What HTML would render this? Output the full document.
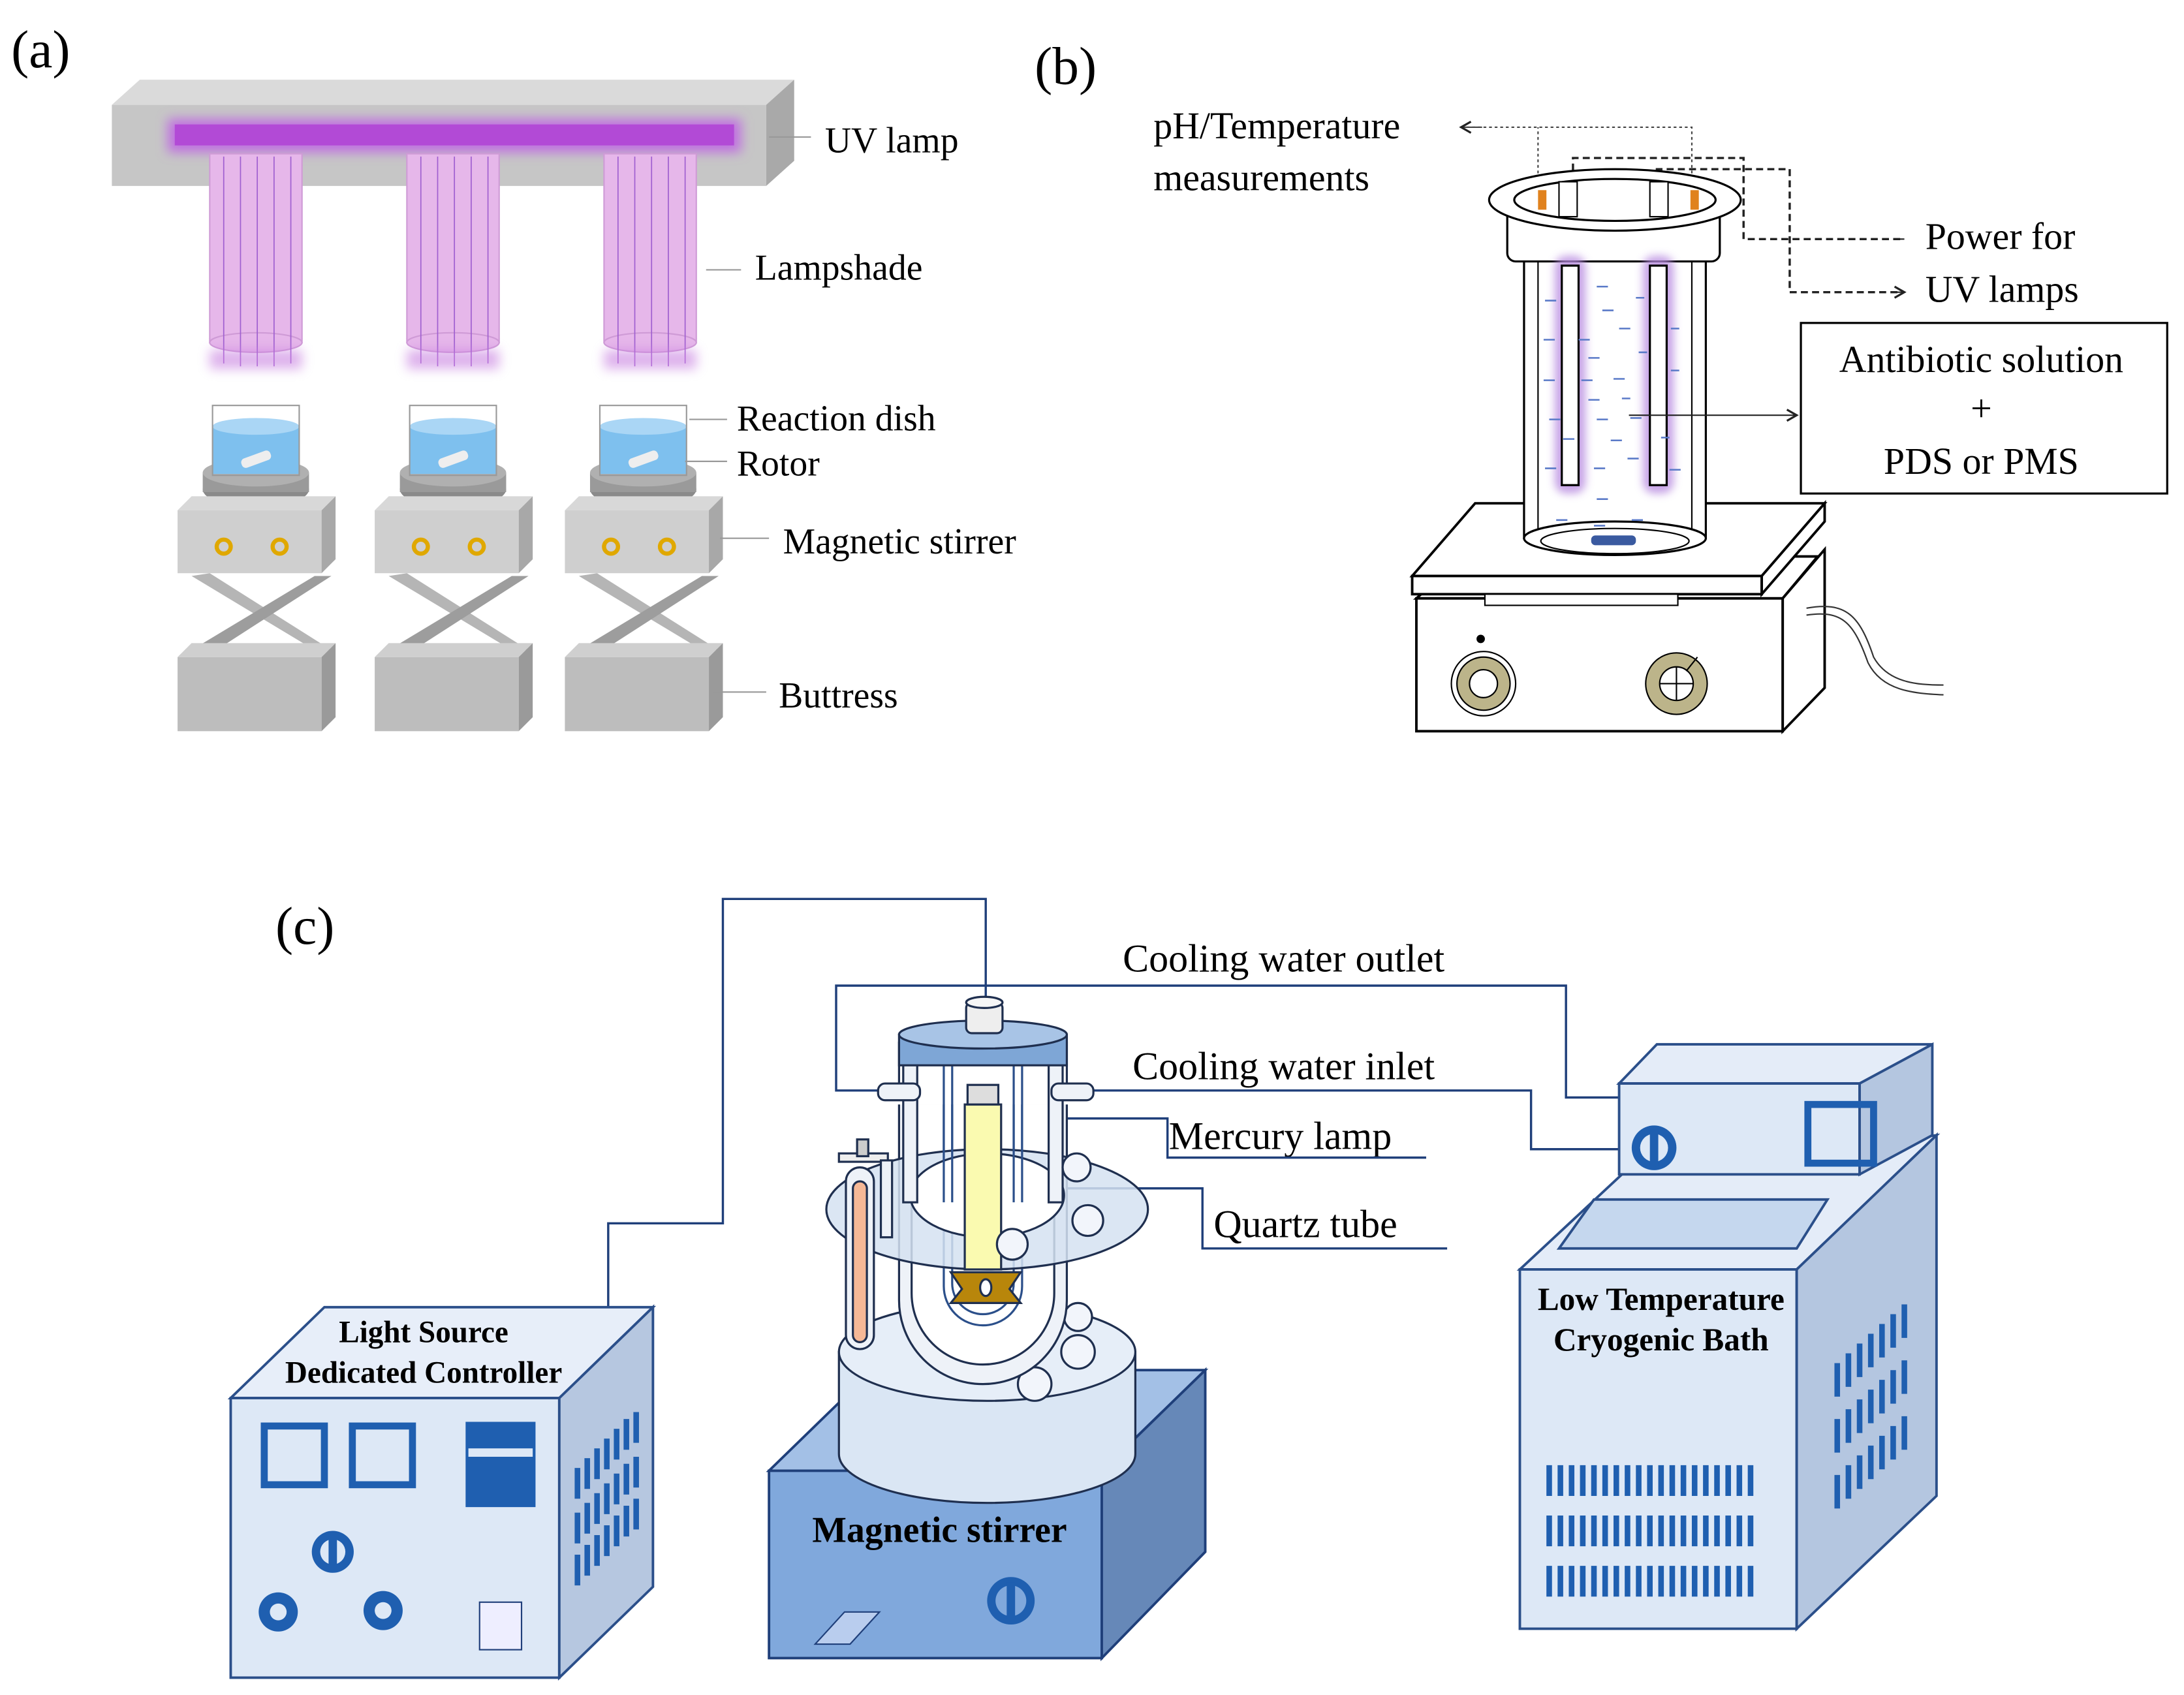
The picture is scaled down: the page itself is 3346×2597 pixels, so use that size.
<!DOCTYPE html>
<html><head><meta charset="utf-8"><style>html,body{margin:0;padding:0;background:#fff}svg{display:block}</style></head>
<body>
<svg width="3346" height="2597" viewBox="0 0 1562 1212.4" preserveAspectRatio="none" xmlns="http://www.w3.org/2000/svg" font-family="Liberation Serif, serif">
<defs>
<filter id="glow" x="-20%" y="-100%" width="140%" height="300%"><feGaussianBlur stdDeviation="4"/></filter>
<filter id="g2" x="-50%" y="-10%" width="200%" height="120%"><feGaussianBlur stdDeviation="3"/></filter>
<marker id="ar" markerWidth="10" markerHeight="10" refX="8" refY="5" orient="auto"><path d="M1,1 L8,5 L1,9" fill="none" stroke="#222" stroke-width="1.5"/></marker>
</defs>
<rect width="1562" height="1213" fill="#fff"/>
<!-- (a) -->
<text x="8" y="48" font-size="38">(a)</text>
<polygon points="80,75 100,57 568,57 548,75" fill="#dadada"/>
<rect x="80" y="75" width="468" height="58" fill="#c6c6c6"/>
<polygon points="548,75 568,57 568,115 548,133" fill="#a9a9a9"/>
<rect x="120" y="85" width="410" height="24" fill="#c070e0" filter="url(#glow)"/>
<rect x="125" y="89" width="400" height="15" fill="#b24ad6"/>
<g fill="#e6b7ea" stroke="#cf9bd6">
<rect x="150" y="110" width="66" height="135"/><ellipse cx="183" cy="245" rx="33" ry="7"/>
<rect x="291" y="110" width="66" height="135"/><ellipse cx="324" cy="245" rx="33" ry="7"/>
<rect x="432" y="110" width="66" height="135"/><ellipse cx="465" cy="245" rx="33" ry="7"/>
</g>
<g stroke="#a060d0" stroke-width="0.8">
<path d="M160,112V260M172,112V262M184,112V262M196,112V262M208,112V260M301,112V260M313,112V262M325,112V262M337,112V262M349,112V260M442,112V260M454,112V262M466,112V262M478,112V262M490,112V260"/>
</g>
<g fill="#c880e0" opacity="0.6" filter="url(#glow)"><rect x="150" y="250" width="66" height="14"/><rect x="291" y="250" width="66" height="14"/><rect x="432" y="250" width="66" height="14"/></g>
<g id="st">
<ellipse cx="183" cy="350" rx="38" ry="13" fill="#8a8a8a"/>
<rect x="145" y="338" width="76" height="14" fill="#9a9a9a"/>
<ellipse cx="183" cy="338" rx="38" ry="10" fill="#b0b0b0"/>
<rect x="152" y="305" width="62" height="34" fill="#7ec0ee"/>
<ellipse cx="183" cy="305" rx="31" ry="6" fill="#aad6f5"/>
<rect x="152" y="290" width="62" height="50" fill="none" stroke="#999"/>
<rect x="172" y="325" width="22" height="7" rx="3" fill="#eee" transform="rotate(-20 183 328)"/>
<polygon points="127,365 137,355 240,355 230,365" fill="#d8d8d8"/>
<rect x="127" y="365" width="103" height="45" fill="#cfcfcf"/>
<polygon points="230,365 240,355 240,400 230,410" fill="#a8a8a8"/>
<circle cx="160" cy="391" r="5" fill="none" stroke="#e0a800" stroke-width="3"/>
<circle cx="200" cy="391" r="5" fill="none" stroke="#e0a800" stroke-width="3"/>
<polygon points="137,412 225,465 237,465 150,410" fill="#b5b5b5"/>
<polygon points="225,412 137,465 150,468 237,412" fill="#9d9d9d"/>
<polygon points="127,470 137,460 240,460 230,470" fill="#cfcfcf"/>
<rect x="127" y="470" width="103" height="53" fill="#bdbdbd"/>
<polygon points="230,470 240,460 240,513 230,523" fill="#9a9a9a"/>
</g>
<use href="#st" x="141"/><use href="#st" x="277"/>
<g stroke="#999" stroke-width="1"><path d="M550,98H580M505,193H530M493,300H520M490,330H520M515,385H550M510,495H548"/></g>
<g font-size="26"><text x="590" y="109">UV lamp</text><text x="540" y="200">Lampshade</text><text x="527" y="308">Reaction dish</text><text x="527" y="340">Rotor</text><text x="560" y="396">Magnetic stirrer</text><text x="557" y="506">Buttress</text></g>
<!-- (b) -->
<text x="740" y="60" font-size="38">(b)</text>
<g font-size="27"><text x="825" y="99">pH/Temperature</text><text x="825" y="136">measurements</text>
<text x="1377" y="178">Power for</text><text x="1377" y="216">UV lamps</text></g>
<rect x="1288" y="231" width="262" height="122" fill="#fff" stroke="#000" stroke-width="1.5"/>
<g font-size="27" text-anchor="middle"><text x="1417" y="266">Antibiotic solution</text><text x="1417" y="301">+</text><text x="1417" y="339">PDS or PMS</text></g>
<g fill="none" stroke="#444" stroke-dasharray="2,2"><path d="M1210,140V91H1045M1100,140V91"/></g>
<path d="M1060,91H1045" stroke="#444" marker-end="url(#ar)"/>
<g fill="none" stroke="#222" stroke-width="1.6" stroke-dasharray="5,3"><path d="M1125,130V113H1247V171H1360"/><path d="M1185,130V121H1280V209H1360"/></g>
<path d="M1355,171H1362M1355,209H1362" stroke="#222" marker-end="url(#ar)"/>
<!-- hotplate -->
<polygon points="1013,428 1047,398 1300,398 1275,428" fill="#fff" stroke="#000" stroke-width="1.8"/>
<polygon points="1013,428 1275,428 1275,523 1013,523" fill="#fff" stroke="#000" stroke-width="1.8"/>
<polygon points="1275,428 1305,393 1305,492 1275,523" fill="#fff" stroke="#000" stroke-width="1.8"/>
<polygon points="1010,412 1055,360 1305,360 1260,412" fill="#fff" stroke="#000" stroke-width="1.8"/>
<rect x="1010" y="412" width="250" height="13" fill="#fff" stroke="#000" stroke-width="1.8"/>
<polygon points="1260,412 1305,360 1305,373 1260,425" fill="#fff" stroke="#000" stroke-width="1.8"/>
<rect x="1062" y="425" width="138" height="8" fill="#fff" stroke="#000"/>
<circle cx="1059" cy="457" r="3"/>
<circle cx="1061" cy="489" r="23" fill="#fff" stroke="#000"/><circle cx="1061" cy="489" r="19" fill="#bcb48a" stroke="#000"/><circle cx="1061" cy="489" r="10" fill="#fff" stroke="#000"/>
<circle cx="1199" cy="489" r="22" fill="#bcb48a" stroke="#000"/><circle cx="1199" cy="489" r="12" fill="#fff" stroke="#000"/><path d="M1187,489H1211M1199,477V501M1206,480L1214,470" stroke="#000"/>
<path d="M1292,435C1320,430 1330,440 1340,470C1350,488 1370,490 1390,490M1292,440C1318,436 1326,446 1336,474C1346,494 1368,496 1390,497" fill="none" stroke="#333"/>
<!-- beaker -->
<rect x="1090" y="180" width="130" height="205" fill="#fff" stroke="#000" stroke-width="1.5"/>
<path d="M1100,180V385M1210,180V385" stroke="#000"/>
<ellipse cx="1155" cy="385" rx="65" ry="12" fill="#fff" stroke="#000" stroke-width="1.5"/>
<ellipse cx="1155" cy="387" rx="53" ry="9" fill="none" stroke="#000"/>
<rect x="1138" y="383" width="32" height="7" rx="3" fill="#3a5aa0"/>
<rect x="1078" y="145" width="152" height="42" rx="6" fill="#fff" stroke="#000" stroke-width="1.5"/>
<ellipse cx="1155" cy="143" rx="90" ry="22" fill="#fff" stroke="#000" stroke-width="1.5"/>
<ellipse cx="1155" cy="143" rx="72" ry="15" fill="#fff" stroke="#000" stroke-width="1.5"/>
<rect x="1100" y="136" width="6" height="14" fill="#e0821e"/><rect x="1209" y="136" width="6" height="14" fill="#e0821e"/>
<rect x="1115" y="130" width="13" height="25" fill="#fff" stroke="#000"/><rect x="1180" y="130" width="13" height="25" fill="#fff" stroke="#000"/>
<g fill="#b88be0" opacity="0.8" filter="url(#g2)"><rect x="1112" y="183" width="22" height="170" rx="8"/><rect x="1175" y="183" width="22" height="170" rx="8"/></g>
<rect x="1117" y="190" width="12" height="157" fill="#fff" stroke="#000" stroke-width="1.5"/>
<rect x="1180" y="190" width="12" height="157" fill="#fff" stroke="#000" stroke-width="1.5"/>
<g stroke="#5a7ac8" stroke-width="1.2"><path d="M1142,205h8M1105,215h8M1146,222h8M1170,213h6M1104,243h8M1129,243h8M1158,235h8M1195,235h6M1136,256h8M1172,252h6M1104,272h8M1131,272h8M1154,271h8M1195,265h6M1136,286h8M1160,285h6M1108,300h8M1142,300h8M1166,299h8M1118,314h8M1152,315h8M1188,313h6M1105,335h8M1140,335h8M1164,328h8M1194,336h8M1142,357h8M1113,372h8M1140,376h8M1167,372h8"/></g>
<path d="M1165,297H1285" stroke="#222" marker-end="url(#ar)"/>
<!-- (c) -->
<text x="197" y="675" font-size="38">(c)</text>
<g font-size="28"><text x="803" y="695">Cooling water outlet</text><text x="810" y="772">Cooling water inlet</text><text x="836" y="822">Mercury lamp</text><text x="868" y="885">Quartz tube</text></g>
<g fill="none" stroke="#1f3f7a" stroke-width="1.6">
<path d="M435,935V875H517V643H705V720"/>
<path d="M632,780H598V705H1120V785H1160"/>
<path d="M770,780H1095V822H1160"/>
<path d="M715,800H835V828H1020"/>
<path d="M735,850H860V893H1035"/>
</g>
<!-- controller -->
<g stroke="#2b4f8a" stroke-width="1.8">
<polygon points="165,1000 232,935 467,935 400,1000" fill="#e7eef9"/>
<rect x="165" y="1000" width="235" height="200" fill="#dde8f6"/>
<polygon points="400,1000 467,935 467,1135 400,1200" fill="#b6c7e0"/>
</g>
<g font-size="22" font-weight="bold" text-anchor="middle"><text x="303" y="960">Light Source</text><text x="303" y="989">Dedicated Controller</text></g>
<g fill="none" stroke="#1f5fb0" stroke-width="5"><rect x="189" y="1020" width="43" height="42"/><rect x="252" y="1020" width="43" height="42"/></g>
<rect x="333" y="1017" width="50" height="61" fill="#1f5fb0"/><rect x="335" y="1036" width="46" height="6" fill="#dde8f6"/>
<circle cx="238" cy="1110" r="15" fill="#1f5fb0"/><circle cx="238" cy="1110" r="9" fill="#dde8f6"/><rect x="235" y="1100" width="6" height="20" fill="#1f5fb0"/>
<circle cx="199" cy="1153" r="14" fill="#1f5fb0"/><circle cx="199" cy="1153" r="6" fill="#dde8f6"/>
<circle cx="274" cy="1152" r="14" fill="#1f5fb0"/><circle cx="274" cy="1152" r="6" fill="#dde8f6"/>
<rect x="343" y="1146" width="30" height="34" fill="#eef" stroke="#1f3f7a"/>
<g stroke="#1f5fb0" stroke-width="4"><path d="M413,1050v22M420,1043v22M427,1036v22M434,1029v22M441,1022v22M448,1015v22M455,1010v22M413,1082v22M420,1075v22M427,1068v22M434,1061v22M441,1054v22M448,1047v22M455,1042v22M413,1112v22M420,1105v22M427,1098v22M434,1091v22M441,1084v22M448,1077v22M455,1072v22"/></g>
<!-- stirrer box -->
<g stroke="#1f3f7a" stroke-width="1.8">
<polygon points="550,1052 624,980 862,980 788,1052" fill="#a3c0e6"/>
<rect x="550" y="1052" width="238" height="134" fill="#80a8dc"/>
<polygon points="788,1052 862,980 862,1110 788,1186" fill="#6688b8"/>
</g>
<text x="672" y="1103" font-size="26" font-weight="bold" text-anchor="middle">Magnetic stirrer</text>
<polygon points="583,1176 604,1153 629,1153 608,1176" fill="#b9cdee" stroke="#1f3f7a"/>
<circle cx="723" cy="1145" r="17" fill="#1f5fb0"/><circle cx="723" cy="1145" r="11" fill="#80a8dc"/><rect x="720" y="1132" width="6" height="26" fill="#1f5fb0"/>
<!-- reactor -->
<g stroke="#1f2f4f" stroke-width="1.5">
<path d="M600,967V1040A106,35 0 0 0 812,1040V967Z" fill="#dae6f4"/>
<ellipse cx="706" cy="967" rx="106" ry="35" fill="#e6eef8"/>
<circle cx="771" cy="942" r="10" fill="#f2f5fb"/><circle cx="771" cy="967" r="12" fill="#f2f5fb"/><circle cx="740" cy="990" r="12" fill="#f2f5fb"/>
<path d="M643,790V930A60,60 0 0 0 763,930V790" fill="#eef2f8"/>
<path d="M652,790V925A51,51 0 0 0 754,925V790" fill="#fff"/>
<path d="M675,790V920A28,28 0 0 0 731,920V790" fill="none" stroke="#2b4f8a"/>
<path d="M681,790V918A22,22 0 0 0 725,918V790" fill="none" stroke="#2b4f8a"/>
<ellipse cx="706" cy="865" rx="115" ry="43" fill="#d5e2f1" fill-opacity="0.85"/>
<ellipse cx="706" cy="855" rx="55" ry="30" fill="#fff"/>
<rect x="646" y="760" width="10" height="100" fill="#eef2f8"/><rect x="750" y="760" width="10" height="100" fill="#eef2f8"/>
<path d="M675,760V860M681,760V860M725,760V860M731,760V860" stroke="#2b4f8a"/>
<rect x="690" y="790" width="26" height="118" fill="#fafab0"/>
<rect x="692" y="776" width="22" height="14" fill="#ddd"/>
<polygon points="680,910 730,910 722,922 730,932 680,932 688,922" fill="#b8860b"/>
<ellipse cx="705" cy="921" rx="4" ry="6" fill="#fff"/>
<circle cx="778" cy="873" r="11" fill="#f2f5fb"/><circle cx="724" cy="890" r="11" fill="#f2f5fb"/><circle cx="770" cy="835" r="10" fill="#f2f5fb"/>
<rect x="628" y="775" width="30" height="12" rx="5" fill="#eef2f8"/><rect x="752" y="775" width="30" height="12" rx="5" fill="#eef2f8"/>
<path d="M643,745V775M763,745V775" />
<rect x="643" y="740" width="120" height="22" fill="#7ea6d6"/>
<ellipse cx="703" cy="740" rx="60" ry="10" fill="#a8c4e6"/>
<rect x="691" y="717" width="26" height="22" rx="4" fill="#eee"/><ellipse cx="704" cy="717" rx="13" ry="4" fill="#f6f6f6"/>
<rect x="605" y="835" width="20" height="130" rx="10" fill="#eef2f8"/>
<rect x="610" y="845" width="10" height="115" rx="5" fill="#f6b896"/>
<rect x="600" y="825" width="35" height="6" fill="#eee"/><rect x="613" y="815" width="8" height="12" fill="#ccc"/>
<rect x="630" y="830" width="8" height="55" fill="#eef2f8"/>
</g>
<!-- bath -->
<g stroke="#2b4f8a" stroke-width="1.8">
<polygon points="1087,908 1160,840 1385,812 1285,908" fill="#e4ecf8"/>
<rect x="1087" y="908" width="198" height="257" fill="#dde8f6"/>
<polygon points="1285,908 1385,812 1385,1070 1285,1165" fill="#b4c6e0"/>
<polygon points="1158,775 1185,747 1382,747 1330,775" fill="#e4ecf8"/>
<rect x="1158" y="775" width="172" height="65" fill="#dde8f6"/>
<polygon points="1330,775 1382,747 1382,812 1330,840" fill="#b4c6e0"/>
<polygon points="1115,893 1140,858 1307,858 1285,893" fill="#c5d7ee"/>
</g>
<rect x="1293" y="790" width="47" height="42" fill="none" stroke="#1f5fb0" stroke-width="5"/>
<circle cx="1183" cy="821" r="16" fill="#1f5fb0"/><circle cx="1183" cy="821" r="10" fill="#dde8f6"/><rect x="1180" y="808" width="6" height="26" fill="#1f5fb0"/>
<g font-size="23" font-weight="bold" text-anchor="middle"><text x="1188" y="937">Low Temperature</text><text x="1188" y="966">Cryogenic Bath</text></g>
<g stroke="#1f5fb0" stroke-width="4">
<path d="M1108,1048v22M1116,1048v22M1124,1048v22M1132,1048v22M1140,1048v22M1148,1048v22M1156,1048v22M1164,1048v22M1172,1048v22M1180,1048v22M1188,1048v22M1196,1048v22M1204,1048v22M1212,1048v22M1220,1048v22M1228,1048v22M1236,1048v22M1244,1048v22M1252,1048v22"/>
<path d="M1108,1084v22M1116,1084v22M1124,1084v22M1132,1084v22M1140,1084v22M1148,1084v22M1156,1084v22M1164,1084v22M1172,1084v22M1180,1084v22M1188,1084v22M1196,1084v22M1204,1084v22M1212,1084v22M1220,1084v22M1228,1084v22M1236,1084v22M1244,1084v22M1252,1084v22"/>
<path d="M1108,1120v22M1116,1120v22M1124,1120v22M1132,1120v22M1140,1120v22M1148,1120v22M1156,1120v22M1164,1120v22M1172,1120v22M1180,1120v22M1188,1120v22M1196,1120v22M1204,1120v22M1212,1120v22M1220,1120v22M1228,1120v22M1236,1120v22M1244,1120v22M1252,1120v22"/>
<path d="M1314,975v24M1322,968v24M1330,961v24M1338,954v24M1346,947v24M1354,940v24M1362,933v24M1314,1015v24M1322,1008v24M1330,1001v24M1338,994v24M1346,987v24M1354,980v24M1362,973v24M1314,1055v24M1322,1048v24M1330,1041v24M1338,1034v24M1346,1027v24M1354,1020v24M1362,1013v24"/>
</g>
</svg>
</body></html>
